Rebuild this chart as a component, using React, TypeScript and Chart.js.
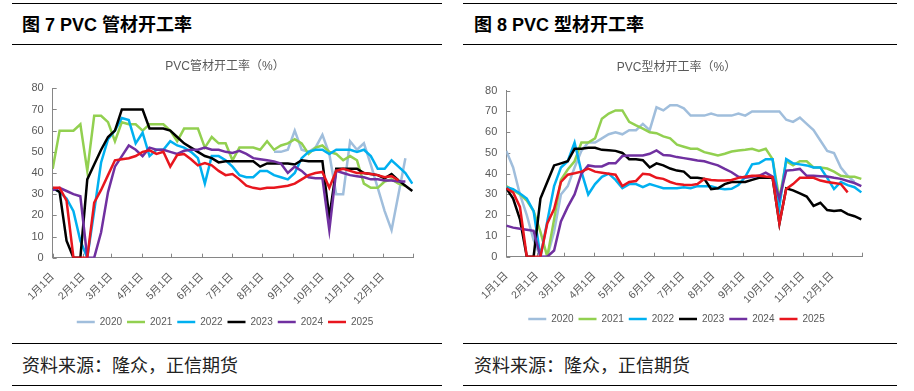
import React, { useEffect, useRef } from 'react';
import { Chart, registerables } from 'chart.js';

Chart.register(...registerables);

// ---------- data ----------
const YEARS = ['2020', '2021', '2022', '2023', '2024', '2025'];
const COLORS = ['#A0BEDC', '#92D050', '#00B0F0', '#000000', '#7030A0', '#E8161E'];
const MONTH_LABELS = ['1月1日', '2月1日', '3月1日', '4月1日', '5月1日', '6月1日', '7月1日', '8月1日', '9月1日', '10月1日', '11月1日', '12月1日'];
const MONTH_START_DAYS = [0, 31, 59, 90, 120, 151, 181, 212, 243, 273, 304, 334, 365];
const WEEK_DAYS = 7;

// PVC 管材开工率 (weekly)
const pipe2020 = [null, null, null, null, null, null, null, null, null, null, null, null, null, null, null, null, null, null, null, null, null, null, null, null, null, null, null, null, null, null, null, null,
  50, 50, 51, 60, 51, 50, 52, 58, 49, 30, 30, 55, 51, 54, 44, 33, 22, 13, 30, 47, null];
const pipe2021 = [42, 60, 60, 60, 63, 41, 67, 67, 64, 55, 64, 63, 63, 60, 63, 63, 63, 60, 55, 61, 61, 61, 52, 57, 54, 54, 46, 52, 52, 52, 51, 55, 51, 53, 54, 56, 54, 49, 52, 53, 50, 49, 46, 48, 46, 35, 33, 33, 36, 37, 35, 34, null];
const pipe2022 = [33, 31, 28, 22, 8, 0, 22, 45, 56, 60, 66, 65, 54, 59, 48, 51, 51, 55, 53, 52, 50, 47, 35, 48, 48, 46, 43, 39, 38, 38, 41, 41, 39, 38, 37, 40, 47, 50, 51, 51, 49, 51, 51, 51, 50, 51, 48, 42, 42, 46, 43, 40, 35];
const pipe2023 = [33, 31, 8, 0, 0, 37, 44, 51, 57, 60, 70, 70, 70, 70, 61, 61, 61, 60, 57, 54, 52, 50, 48, 47, 45, 45.5, 45.5, 45.5, 45.5, 45.5, 43, 44.5, 44.5, 44.5, 44.5, 44, 46, 45.5, 45.5, 45.5, 19, 42, 42, 42, 42, 40, 39.5, 39, 37.5, 39.5, 36.5, 34, 31.5];
const pipe2024 = [32, 33, 31.5, 30, 29, 0, 0, 12, 31, 43, 48, 53, 51, 48, 52, 51, 51, 50, 49, 50.5, 51, 51, 52, 51, 51, 50, 49.5, 50.5, 49, 47, 46.5, 46, 45.5, 44.5, 40, 43, 41, 38, 37.5, 37.5, 13, 41, 40, 39, 38.5, 38, 37, 37, 36.5, 36.5, 36, 36, null];
const pipe2025 = [33, 33, 27, 0, 0, 0, 26, 32, 39, 46, 46.5, 47, 48, 50, 50.7, 49, 50, 43, 48.5, 49, 46.5, 43.6, 44.7, 43.6, 41, 39, 39.5, 37, 34, 33, 32.5, 33, 33, 33.5, 34, 35, 37, 39, 40, 40.5, 33, 41, 42, 41, 40, 40, 39.5, 39, 38, 38.5, 36.5, null, null];

// PVC 型材开工率 (weekly)
const prof2020 = [51, 43, 30, 20, 8, 0, 0, 12, 30, 34, 43, 51, 55, 55, 57, 59, 60, 59, 61, 61, 64, 61, 72, 70.5, 73, 73, 71.5, 68, 68, 68, 69, 68, 68, 68, 69, 68, 70, 70, 70, 70, 70, 66, 65, 67, 64, 61, 56, 51, 50, 43, 39, 36, null];
const prof2021 = [34, 32, 30, 27, 22, 12, 0, 18, 37, 42, 46, 55, 55, 57, 66.5, 69, 70.5, 70.5, 65, 63.3, 61.7, 60, 59.5, 58, 57, 54, 53, 52, 52, 50.4, 49.6, 48.8, 49.6, 50.7, 51.2, 51.5, 52, 51, 52, 47, 28, 46, 44, 46, 46, 43, 43, 42.5, 41, 39, 38.5, 38.5, 37.5];
const prof2022 = [33.5, 32.5, 30.5, 28, 22, 0, 17, 34, 43, 46, 55, 41, 30, 35, 38.5, 40, 37, 33, 35, 35, 33.5, 35, 34, 33, 33, 33, 33.5, 33, 34, 34, 34, 33, 32.5, 32.7, 34.5, 38.5, 44.5, 45, 47, 47, 24, 47, 45, 44.5, 44, 43, 43, 38, 32.6, 36, 34.5, 33.5, 31];
const prof2023 = [33, 28, 18, 0, 0, 28, 36, 44, 45, 46, 52, 52, 52.5, 52.5, 51.5, 51.3, 51, 50, 47, 47, 46.5, 43, 45, 44, 42.5, 41.5, 41, 38, 38, 37.5, 32.6, 33, 35, 36, 36, 36, 37, 38, 38, 38, 16, 33, 32, 30.5, 29, 24.5, 26, 22.5, 22, 22.4, 20.5, 19.5, 18];
const prof2024 = [15, 14, 13.5, 13, 12.5, 0, 0, 3, 17, 24, 30, 40, 44, 43.5, 43.5, 45, 45, 48.5, 48.8, 48.8, 48.8, 49.6, 51.2, 49, 48.8, 48, 47.5, 47, 46.4, 46, 45, 44, 42.3, 40.7, 38.5, 38, 38.5, 39, 40.5, 38.6, 28, 41.5, 41.8, 42.3, 39, 39, 38.8, 38.6, 38, 37.5, 36.5, 35.5, 34];
const prof2025 = [33, 31, 24, 0, 0, 0, 16, 23, 36, 39.5, 40.2, 41, 42.5, 41, 40.5, 40, 39.5, 34, 36, 36.5, 40, 39.6, 38, 37.5, 36, 35, 34.7, 34.5, 35, 37.5, 37, 36.7, 36.7, 37, 38, 38.5, 39, 39, 38.6, 38.3, 16, 32.6, 35, 38, 38, 38, 36.7, 36, 35.5, 35, 31, null, null];

const PIPE_SERIES = [pipe2020, pipe2021, pipe2022, pipe2023, pipe2024, pipe2025];
const PROF_SERIES = [prof2020, prof2021, prof2022, prof2023, prof2024, prof2025];

// ---------- styles ----------
const AXIS_COLOR = '#868686';
const TEXT_GRAY = '#595959';
const FONT = "'Liberation Sans', 'Noto Sans CJK SC', sans-serif";

type PanelCfg = {
  left: number; top: number; width: number; height: number;
  title: string; yAxisWidth: number; rightGap: number;
  titlePadTop: number; titlePadBottom: number; xAxisHeight: number;
  series: (number | null)[][];
};

const inwardTicks = {
  id: 'inwardTicks',
  beforeDatasetsDraw(chart: any) {
    const { ctx, chartArea, scales } = chart;
    ctx.save();
    ctx.strokeStyle = AXIS_COLOR;
    ctx.lineWidth = 1;
    const xs = scales.x;
    xs.ticks.forEach((t: any) => {
      const px = Math.round(xs.getPixelForValue(t.value)) + 0.5;
      ctx.beginPath();
      ctx.moveTo(px, chartArea.bottom);
      ctx.lineTo(px, chartArea.bottom - 4);
      ctx.stroke();
    });
    const ys = scales.y;
    ys.ticks.forEach((t: any) => {
      const py = Math.round(ys.getPixelForValue(t.value)) + 0.5;
      ctx.beginPath();
      ctx.moveTo(chartArea.left, py);
      ctx.lineTo(chartArea.left + 4, py);
      ctx.stroke();
    });
    ctx.restore();
  },
};

function PanelChart({ cfg }: { cfg: PanelCfg }) {
  const ref = useRef<HTMLCanvasElement>(null);
  useEffect(() => {
    const chart = new Chart(ref.current as HTMLCanvasElement, {
      type: 'line',
      data: {
        datasets: YEARS.map((yr, k) => ({
          label: yr,
          data: cfg.series[k].map((v, i) => ({ x: i * WEEK_DAYS, y: v })),
          borderColor: COLORS[k],
          backgroundColor: COLORS[k],
          borderWidth: 2.5,
          pointRadius: 0,
          tension: 0,
          spanGaps: false,
          order: YEARS.length - 1 - k,
        })),
      },
      options: {
        animation: false,
        responsive: false,
        maintainAspectRatio: false,
        layout: { padding: 0 },
        plugins: {
          title: {
            display: true,
            text: cfg.title,
            color: TEXT_GRAY,
            font: { family: FONT, size: 12, weight: 'normal' },
            padding: { top: cfg.titlePadTop, bottom: cfg.titlePadBottom },
          },
          legend: {
            position: 'bottom',
            labels: {
              usePointStyle: true,
              pointStyle: 'line',
              pointStyleWidth: 18,
              color: TEXT_GRAY,
              font: { family: FONT, size: 10 },
              padding: 5,
              sort: (a: any, b: any) => a.datasetIndex - b.datasetIndex,
            },
          },
          tooltip: { enabled: false },
        },
        scales: {
          x: {
            type: 'linear',
            min: 0,
            max: 365,
            afterBuildTicks: (s: any) => { s.ticks = MONTH_START_DAYS.map((v) => ({ value: v })); },
            afterFit: (s: any) => { s.height = cfg.xAxisHeight; },
            ticks: {
              autoSkip: false,
              minRotation: 45,
              maxRotation: 45,
              padding: 13,
              color: TEXT_GRAY,
              font: { family: FONT, size: 10.5 },
              callback: (_v: any, i: number) => MONTH_LABELS[i] ?? '',
            },
            grid: { display: false, drawTicks: false },
            border: { display: true, color: AXIS_COLOR, width: 1 },
          },
          y: {
            position: 'left',
            min: 0,
            max: 80,
            afterFit: (s: any) => { s.width = cfg.yAxisWidth; },
            ticks: { stepSize: 10, padding: 9, color: TEXT_GRAY, font: { family: FONT, size: 11 } },
            grid: { display: false, drawTicks: false },
            border: { display: true, color: AXIS_COLOR, width: 1 },
          },
          yr: {
            position: 'right',
            display: true,
            afterFit: (s: any) => { s.width = cfg.rightGap; },
            ticks: { display: false },
            grid: { display: false, drawTicks: false },
            border: { display: false },
          },
        },
      },
      plugins: [inwardTicks],
    } as any);
    return () => chart.destroy();
  }, [cfg]);
  return (
    <canvas
      ref={ref}
      width={cfg.width}
      height={cfg.height}
      style={{ position: 'absolute', left: cfg.left, top: cfg.top, width: cfg.width, height: cfg.height }}
    />
  );
}

const LEFT_CFG: PanelCfg = {
  left: 10, top: 50, width: 430, height: 287,
  title: 'PVC管材开工率（%）', yAxisWidth: 42.7, rightGap: 26.7,
  titlePadTop: 9.8, titlePadBottom: 14.1, xAxisHeight: 54.3,
  series: PIPE_SERIES,
};
const RIGHT_CFG: PanelCfg = {
  left: 463, top: 50, width: 427, height: 284,
  title: 'PVC型材开工率（%）', yAxisWidth: 43.3, rightGap: 27.7,
  titlePadTop: 10.8, titlePadBottom: 15.5, xAxisHeight: 52.3,
  series: PROF_SERIES,
};

function HLine({ left, top, width }: { left: number; top: number; width: number }) {
  return <div style={{ position: 'absolute', left, top, width, height: 1, background: '#000' }} />;
}

function Panel({ x, lineW, textX, heading, cfg }: { x: number; lineW: number; textX: number; heading: string; cfg: PanelCfg }) {
  return (
    <>
      <HLine left={x} top={3} width={lineW} />
      <div style={{ position: 'absolute', left: textX, top: 16, lineHeight: '18px', fontSize: 18, fontWeight: 'bold', fontFamily: FONT, color: '#000', whiteSpace: 'nowrap' }}>{heading}</div>
      <HLine left={x} top={44} width={lineW} />
      <PanelChart cfg={cfg} />
      <HLine left={x} top={343} width={lineW} />
      <div style={{ position: 'absolute', left: textX, top: 355, lineHeight: '18px', fontSize: 18, fontFamily: "'Noto Sans CJK SC', sans-serif", color: '#222', whiteSpace: 'nowrap' }}>资料来源：隆众，正信期货</div>
      <HLine left={x} top={385} width={lineW} />
    </>
  );
}

export default function App() {
  return (
    <div style={{ position: 'absolute', left: 0, top: 0, width: 914, height: 391, overflow: 'hidden', background: '#fff' }}>
      <Panel x={12} lineW={430} textX={22} heading="图 7 PVC 管材开工率" cfg={LEFT_CFG} />
      <Panel x={463} lineW={434} textX={474} heading="图 8 PVC 型材开工率" cfg={RIGHT_CFG} />
    </div>
  );
}
